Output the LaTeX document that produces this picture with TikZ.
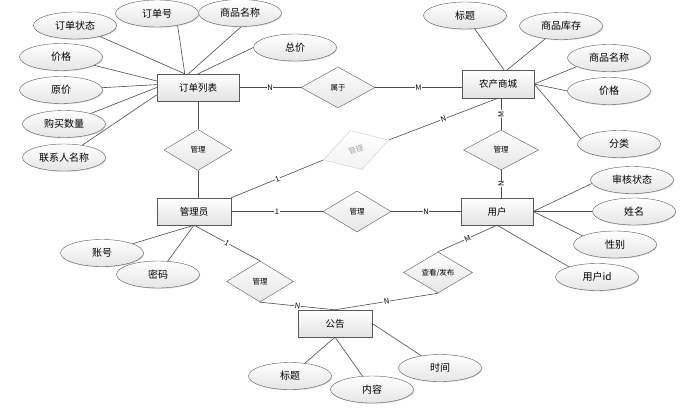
\documentclass[tikz,border=0pt]{standalone}
\usepackage{fontspec}
\setmainfont{Noto Sans CJK SC}
\usepackage{tikz}
\usetikzlibrary{shapes.geometric,shadows}

\begin{document}
\begin{tikzpicture}[x=1pt, y=-1pt,
    entity/.style={draw=black!65, rectangle, minimum width=74pt, minimum height=27pt, inner sep=0pt,
        top color=white, bottom color=gray!22,
        drop shadow={shadow xshift=1.2pt, shadow yshift=-1.2pt, fill=black!40},
        font=\fontsize{9.5}{10}\selectfont},
    attr/.style={draw=black!65, ellipse, minimum width=83pt, minimum height=27pt, inner sep=0pt,
        top color=white, bottom color=gray!20,
        drop shadow={shadow xshift=0.8pt, shadow yshift=-0.8pt, fill=black!30},
        font=\fontsize{10}{11}\selectfont},
    rel/.style={draw=black!65, diamond, minimum width=68pt, minimum height=41pt, inner sep=0pt,
        top color=white, bottom color=gray!20, font=\fontsize{7.5}{8}\selectfont},
    card/.style={fill=white, inner sep=0.6pt, font=\fontsize{7.5}{8}\selectfont},
    link/.style={draw=black!70, line width=0.6pt}]
    \useasboundingbox (0,0) rectangle (684,407);

    \node[entity, minimum width=82pt] (ddlb) at (198,87.5) {订单列表};
    \node[entity, minimum width=72pt, minimum height=28pt] (nccs) at (498,84) {农产商城};
    \node[entity] (glyuan) at (194,211.5) {管理员};
    \node[entity, minimum width=72pt] (yh) at (497,211.5) {用户};
    \node[entity] (gg) at (335,323.5) {公告};

    \node[attr] (ddzt) at (75,25.5) {订单状态};
    \node[attr] (ddh) at (157,13.5) {订单号};
    \node[attr] (spmc1) at (240,13) {商品名称};
    \node[attr] (zj) at (295,47.5) {总价};
    \node[attr] (jg1) at (61,57) {价格};
    \node[attr] (yj) at (61,90) {原价};
    \node[attr] (gmsl) at (64,124) {购买数量};
    \node[attr] (lxrmc) at (64,157.5) {联系人名称};
    \node[attr] (bt1) at (465,15.5) {标题};
    \node[attr] (spkc) at (561,26) {商品库存};
    \node[attr] (spmc2) at (609,58) {商品名称};
    \node[attr] (jg2) at (609,91) {价格};
    \node[attr] (fl) at (619,144) {分类};
    \node[attr] (shzt) at (632,180) {审核状态};
    \node[attr] (xm) at (634,211.5) {姓名};
    \node[attr] (xb) at (615,244.5) {性别};
    \node[attr] (yhid) at (597,277) {用户id};
    \node[attr] (zh) at (102,253) {账号};
    \node[attr] (mm) at (158,274.5) {密码};
    \node[attr] (bt2) at (290,376) {标题};
    \node[attr] (nr) at (372,389.5) {内容};
    \node[attr] (sj) at (440,368) {时间};

    \node[rel, minimum width=74pt] (sy) at (338,87.5) {属于};
    \node[rel] (gl1) at (198,150) {管理};
    \node[rel, rotate=17, draw=gray!40, text=gray!70, bottom color=gray!10] (gl2) at (356,150) {管理};
    \node[rel] (gl3) at (357,211.5) {管理};
    \node[rel, minimum width=67pt] (gl4) at (260,281.5) {管理};
    \node[rel, minimum width=75pt, minimum height=40pt] (gl5) at (501,150) {管理};
    \node[rel, minimum width=69pt] (ckfb) at (438,272.5) {查看/发布};

    \draw[link] (ddzt) -- (ddlb.134);
    \draw[link] (ddh.-30) -- (ddlb.134);
    \draw[link] (spmc1.-85) -- (ddlb.125);
    \draw[link] (zj.west) -- (ddlb.north);
    \draw[link] (jg1) -- (ddlb.171);
    \draw[link] (yj) -- (ddlb.176);
    \draw[link] (gmsl) -- (ddlb.180);
    \draw[link] (lxrmc) -- (ddlb.190);
    \draw[link] (ddlb.east) -- node[card] {N} (sy.west);
    \draw[link] (sy.east) -- node[card] {M} (sy.east -| nccs.west);
    \draw[link] (bt1) -- (nccs.67);
    \draw[link] (spkc) -- (nccs.57);
    \draw[link] (spmc2.195) -- (nccs.east);
    \draw[link] (jg2.west) -- (nccs.east);
    \draw[link] (fl.172) -- (nccs.east);
    \draw[link] (ddlb.south) -- (gl1.north);
    \draw[link] (gl1.south) -- (gl1.south |- glyuan.north);
    \draw[link] (nccs.south) -- node[card, sloped] {N} (gl2.east);
    \draw[link] (glyuan.north east) -- node[card, sloped] {1} (gl2.west);
    \draw[link] (gl5.north |- nccs.south) -- node[card, rotate=90] {M} (gl5.north);
    \draw[link] (gl5.south) -- node[card, rotate=90] {N} (gl5.south |- yh.north);
    \draw[link] (glyuan.east) -- node[card] {1} (gl3.west);
    \draw[link] (gl3.east) -- node[card] {N} (yh.west);
    \draw[link] (zh) -- (glyuan.south);
    \draw[link] (mm) -- (glyuan.south);
    \draw[link] (glyuan.south) -- node[card, sloped] {1} (gl4.north);
    \draw[link] (gl4.south) -- node[card, sloped] {N} (gg.north);
    \draw[link] (shzt.185) -- (yh.east);
    \draw[link] (xm.west) -- (yh.east);
    \draw[link] (xb.165) -- (yh.east);
    \draw[link] (yhid.160) -- (yh.south);
    \draw[link] (yh.south) -- node[card, sloped] {M} (ckfb.north);
    \draw[link] (ckfb.south) -- node[card, sloped] {N} (gg.north);
    \draw[link] (bt2) -- (gg.south);
    \draw[link] (nr) -- (gg.south);
    \draw[link] (sj) -- (gg.east);
\end{tikzpicture}
\end{document}
